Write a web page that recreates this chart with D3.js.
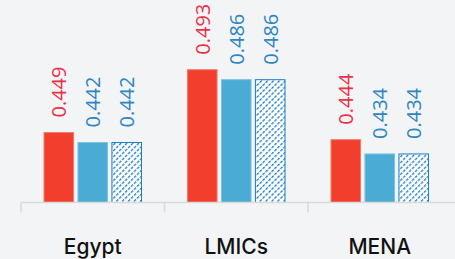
<!DOCTYPE html>
<html>
<head>
<meta charset="utf-8">
<script src="https://cdn.jsdelivr.net/npm/d3@7"></script>
<style>
  html, body { margin: 0; padding: 0; background: #f3f4f6; }
  svg { display: block; }
</style>
</head>
<body>
<div id="container"></div>
<script>
const categories = ["Egypt", "LMICs", "MENA"];
const seriesA = [0.449, 0.493, 0.444];
const seriesB = [0.442, 0.486, 0.434];
const seriesC = [0.442, 0.486, 0.434];
const seriesNames = ["a", "b", "c"];

const width = 455;
const height = 259;
const baseline = 202.5;

const rows = categories.map((c, i) => ({
  category: c,
  values: [seriesA[i], seriesB[i], seriesC[i]],
}));

const svg = d3
  .select("#container")
  .append("svg")
  .attr("width", width)
  .attr("height", height);

const defs = svg.append("defs");
const pat = defs
  .append("pattern")
  .attr("id", "hatch")
  .attr("patternUnits", "userSpaceOnUse")
  .attr("width", 4.2)
  .attr("height", 4.2)
  .attr("patternTransform", "rotate(45)");
pat.append("rect").attr("width", 4.2).attr("height", 4.2).attr("fill", "#fff");
pat
  .append("line")
  .attr("x1", 0)
  .attr("y1", 0)
  .attr("x2", 0)
  .attr("y2", 4.2)
  .attr("stroke", "#1a7ec8")
  .attr("stroke-width", 2.6)
  .attr("stroke-dasharray", "3 1.2");

const x0 = d3.scaleBand().domain(categories).range([21, 451.5]).padding(0);
const x1 = d3
  .scaleBand()
  .domain(seriesNames)
  .range([0, 98.5])
  .paddingInner(0.1);
const y = d3.scaleLinear().domain([0.4, 0.5]).range([baseline, baseline - 142.8]);

const fills = ["#f23f2d", "#4aabd5", "url(#hatch)"];
const strokes = ["#f7796d", "#7cc2e2", "#1a7ec8"];
const labelColors = ["#ec2f45", "#2c86c4", "#2c86c4"];

const groups = svg
  .selectAll("g.group")
  .data(rows)
  .join("g")
  .attr("class", "group")
  .attr("transform", (d) => `translate(${x0(d.category) + (x0.bandwidth() - 98.5) / 2},0)`);

groups
  .selectAll("rect")
  .data((d) => d.values.map((v, i) => ({ v, i })))
  .join("rect")
  .attr("x", (d) => x1(seriesNames[d.i]) + 0.5)
  .attr("y", (d) => y(d.v))
  .attr("width", x1.bandwidth() - 1)
  .attr("height", (d) => baseline - y(d.v))
  .attr("fill", (d) => fills[d.i])
  .attr("stroke", (d) => strokes[d.i])
  .attr("stroke-width", 1);

groups
  .selectAll("text")
  .data((d) => d.values.map((v, i) => ({ v, i })))
  .join("text")
  .attr("transform", (d) => {
    const cx = x1(seriesNames[d.i]) + x1.bandwidth() / 2 + 0.5;
    return `translate(${cx},${y(d.v) - 15}) rotate(-90)`;
  })
  .attr("dy", "0.36em")
  .attr("text-anchor", "start")
  .attr("fill", (d) => labelColors[d.i])
  .attr("font-family", "'Open Sans', sans-serif")
  .attr("font-size", 20)
  .text((d) => d.v.toFixed(3));

// axis
const axis = svg.append("g").attr("transform", `translate(0,${baseline})`);
axis
  .append("line")
  .attr("x1", 21)
  .attr("x2", width)
  .attr("stroke", "#d9d9d9")
  .attr("stroke-width", 1.5);
axis
  .selectAll("line.tick")
  .data(categories)
  .join("line")
  .attr("class", "tick")
  .attr("x1", (d) => x0(d))
  .attr("x2", (d) => x0(d))
  .attr("y1", 0)
  .attr("y2", 10)
  .attr("stroke", "#d9d9d9")
  .attr("stroke-width", 1.5);

axis
  .selectAll("text")
  .data(categories)
  .join("text")
  .attr("x", (d) => x0(d) + x0.bandwidth() / 2)
  .attr("y", 51.5)
  .attr("text-anchor", "middle")
  .attr("fill", "#111")
  .attr("font-family", "Inter, sans-serif")
  .attr("font-weight", 500)
  .attr("font-size", 21)
  .text((d) => d);
</script>
</body>
</html>
